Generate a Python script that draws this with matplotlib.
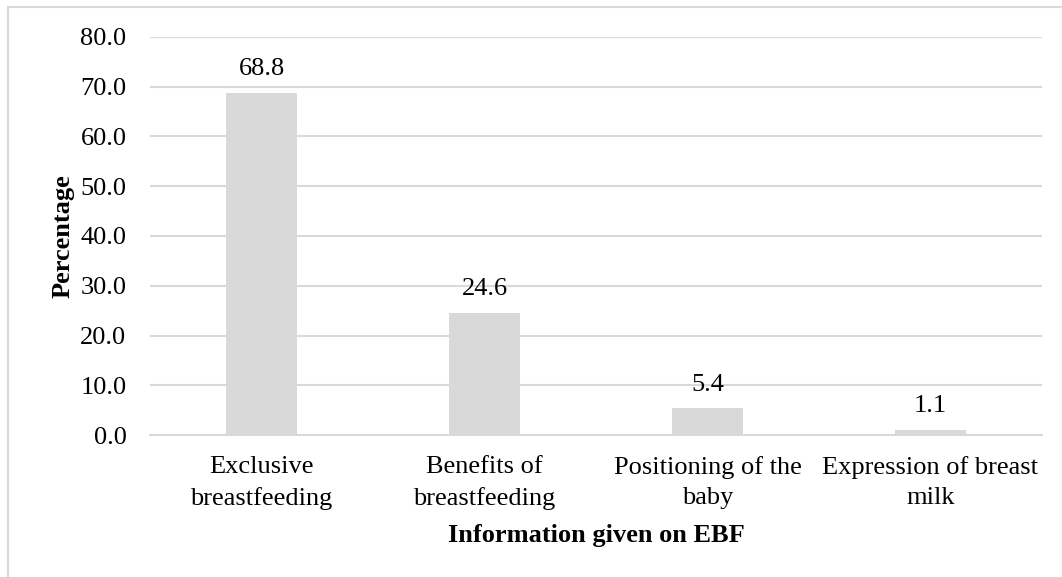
import matplotlib.pyplot as plt
from matplotlib.patches import Rectangle

categories = ['Exclusive\nbreastfeeding', 'Benefits of\nbreastfeeding',
              'Positioning of the\nbaby', 'Expression of breast\nmilk']
values = [68.8, 24.6, 5.4, 1.1]
yticks = [0, 10, 20, 30, 40, 50, 60, 70, 80]

plt.rcParams['font.family'] = ['Liberation Serif', 'DejaVu Serif']

W, H = 1062, 577
fig = plt.figure(figsize=(W / 100, H / 100), dpi=100)

# light frame round the chart (only top and left edges fall inside the picture)
fig.patches.append(Rectangle((8 / W, -0.1), 1.2, 1 - 7 / H + 0.1, transform=fig.transFigure,
                             fill=False, edgecolor='#d9d9d9', linewidth=1.5))

ax = fig.add_axes([150 / W, 1 - 435 / H, (1042 - 150) / W, (435 - 37) / H])
x = range(len(categories))
bars = ax.bar(x, values, width=0.315, color='#d9d9d9', zorder=2)

for b, v in zip(bars, values):
    ax.annotate(f'{v:.1f}', (b.get_x() + b.get_width() / 2, v), xytext=(0, 9),
                textcoords='offset points', ha='center', va='bottom', fontsize=19)

ax.set_xlim(-0.5, 3.5)
ax.set_ylim(0, 80)
ax.set_yticks(yticks)
ax.set_yticklabels([f'{t:.1f}' for t in yticks], fontsize=19)
ax.set_xticks(list(x))
ax.set_xticklabels(categories, fontsize=19, linespacing=1.5)
ax.tick_params(axis='both', length=0)
ax.tick_params(axis='y', pad=17)
ax.tick_params(axis='x', pad=15)

ax.grid(axis='y', color='#d9d9d9', linewidth=1.5, zorder=0)
for s in ['top', 'right', 'left']:
    ax.spines[s].set_visible(False)
ax.spines['bottom'].set_color('#d9d9d9')
ax.spines['bottom'].set_linewidth(1.5)

ax.set_ylabel('Percentage', fontsize=19, fontweight='bold', labelpad=4)
ax.set_xlabel('Information given on EBF', fontsize=19, fontweight='bold', labelpad=10)

fig.savefig('out.png', dpi=100)
